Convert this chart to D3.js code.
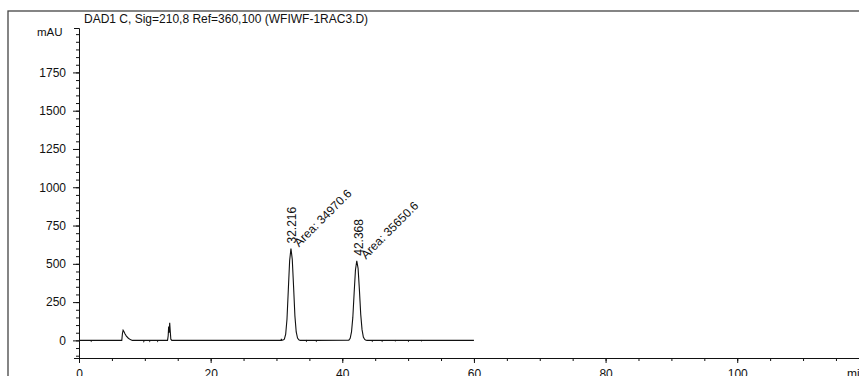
<!DOCTYPE html>
<html>
<head>
<meta charset="utf-8">
<script src="https://cdn.jsdelivr.net/npm/d3@7"></script>
<style>
  body { margin: 0; background: #fff; }
  svg { display: block; }
  text { font-family: "Liberation Sans", Arial, sans-serif; fill: #111; }
</style>
</head>
<body>
<svg width="859" height="376"></svg>
<script>
// chromatogram trace (minutes, mAU)
var traceTime = [0, 1.8, 1.85, 1.9, 6.5, 6.6, 6.7, 6.8, 7.0, 7.2, 7.5, 7.8, 8.1, 9.8, 9.85, 9.9,
  10.7, 10.75, 10.8, 11.9, 11.95, 12.0, 13.45, 13.55, 13.62, 13.7, 13.78, 13.85, 13.95, 14.1,
  30.7, 30.75, 30.8, 31.0, 31.2, 31.4, 31.6, 31.8, 32.0, 32.2, 32.4, 32.6, 32.8, 33.0, 33.2, 33.4, 33.6, 33.8,
  34.5, 34.55, 34.6, 36.0, 36.05, 36.1, 41.0, 41.2, 41.4, 41.6, 41.8, 42.0, 42.2, 42.4, 42.6, 42.8, 43.0, 43.2, 43.4, 43.6, 43.8,
  44.5, 44.55, 44.6, 46.0, 46.05, 46.1, 48.0, 48.05, 48.1, 50.0, 50.05, 50.1, 52.0, 52.05, 52.1, 60.0];
var traceSignal = [0, 0, -4, 0, 0, 45, 67, 60, 42, 28, 14, 5, 0, 0, -6, 0,
  0, -5, 0, 0, -5, 0, 0, 30, 90, 50, 115, 70, 8, 0,
  0, 10, 0, 2, 8, 40, 140, 330, 520, 600, 530, 350, 160, 55, 15, 4, 0, 0,
  0, -4, 0, 0, -4, 0, 2, 14, 55, 150, 310, 460, 520, 470, 330, 170, 70, 22, 6, 1, 0,
  0, -4, 0, 0, -4, 0, 0, -3, 0, 0, -4, 0, 0, -3, 0, 0];

var peakTimes = [32.216, 42.368];
var peakHeights = [600, 520];
var peakAreas = ["34970.6", "35650.6"];

var yTicks = [0, 250, 500, 750, 1000, 1250, 1500, 1750];
var xTicks = [0, 20, 40, 60, 80, 100];

var title = "DAD1 C, Sig=210,8 Ref=360,100 (WFIWF-1RAC3.D)";

var svg = d3.select("svg");

var x = d3.scaleLinear().domain([0, 118.5]).range([79, 859]);
var y = d3.scaleLinear().domain([-115, 2040]).range([358, 28]);

// outer frame
svg.append("rect")
  .attr("x", 8).attr("y", 11)
  .attr("width", 900).attr("height", 400)
  .attr("fill", "none").attr("stroke", "#444").attr("stroke-width", 1.3);

svg.append("text")
  .attr("x", 84).attr("y", 23)
  .style("font-size", "12px")
  .text(title);

svg.append("text")
  .attr("x", 37).attr("y", 36)
  .style("font-size", "11.5px")
  .text("mAU");

// y axis
var yMinor = d3.range(-100, 2001, 50);
svg.append("g")
  .attr("transform", "translate(79,0)")
  .call(d3.axisLeft(y).tickValues(yMinor).tickSize(3).tickFormat("").tickSizeOuter(0))
  .call(function(g) { g.select(".domain").remove(); g.selectAll("line").attr("stroke", "#111"); });
svg.append("g")
  .attr("transform", "translate(79,0)")
  .call(d3.axisLeft(y).tickValues(yTicks).tickFormat(d3.format("d")).tickSize(6).tickPadding(7).tickSizeOuter(5))
  .call(function(g) {
    g.selectAll("text").style("font-size", "12px").style("font-family", "Liberation Sans, Arial, sans-serif").attr("fill", "#111");
    g.selectAll("line, path").attr("stroke", "#111");
  });

// x axis
var xMinor = d3.range(0, 118, 5);
svg.append("g")
  .attr("transform", "translate(0,358)")
  .call(d3.axisBottom(x).tickValues(xMinor).tickSize(3).tickFormat("").tickSizeOuter(0))
  .call(function(g) { g.select(".domain").remove(); g.selectAll("line").attr("stroke", "#111"); });
svg.append("g")
  .attr("transform", "translate(0,358)")
  .call(d3.axisBottom(x).tickValues(xTicks).tickFormat(d3.format("d")).tickSize(5).tickPadding(6).tickSizeOuter(0))
  .call(function(g) {
    g.selectAll("text").style("font-size", "12px").style("font-family", "Liberation Sans, Arial, sans-serif").attr("fill", "#111");
    g.selectAll("line, path").attr("stroke", "#111");
  });
svg.append("text")
  .attr("x", 847).attr("y", 378)
  .style("font-size", "12px")
  .text("min");

// trace
var line = d3.line()
  .x(function(d) { return x(d[0]); })
  .y(function(d) { return y(d[1]); });
svg.append("path")
  .datum(d3.zip(traceTime, traceSignal))
  .attr("d", line)
  .attr("fill", "none")
  .attr("stroke", "#111")
  .attr("stroke-width", 1.1);

// peak annotations
peakTimes.forEach(function(t, i) {
  var px = x(t), py = y(peakHeights[i]);
  svg.append("text")
    .attr("transform", "translate(" + (px + 5) + "," + (py - 5) + ") rotate(-90)")
    .style("font-size", "12px")
    .text(t.toFixed(3));
  svg.append("text")
    .attr("transform", "translate(" + (px + 8) + "," + (py - 1) + ") rotate(-45)")
    .style("font-size", "12px")
    .text("Area: " + peakAreas[i]);
});
</script>
</body>
</html>
